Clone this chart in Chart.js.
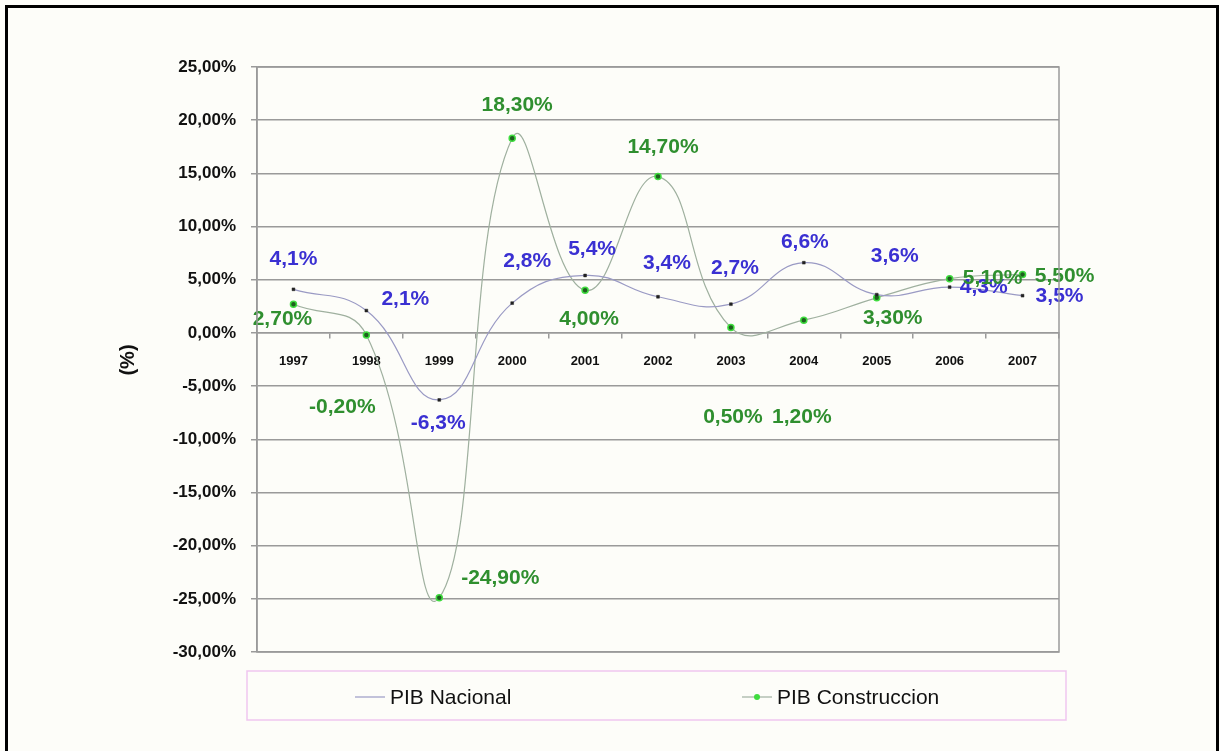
<!DOCTYPE html>
<html>
<head>
<meta charset="utf-8">
<script src="https://cdn.jsdelivr.net/npm/chart.js@4.4.0/dist/chart.umd.min.js"></script>
<style>
  body { margin: 0; background: #fdfdf9; }
  #wrap { width: 1220px; height: 751px; }
</style>
</head>
<body>
<div id="wrap"><canvas id="pibChart" width="1220" height="751"></canvas></div>
<script>
const years = ["1997", "1998", "1999", "2000", "2001", "2002", "2003", "2004", "2005", "2006", "2007"];
const pibNacional = [4.1, 2.1, -6.3, 2.8, 5.4, 3.4, 2.7, 6.6, 3.6, 4.3, 3.5];
const pibConstruccion = [2.7, -0.2, -24.9, 18.3, 4.0, 14.7, 0.5, 1.2, 3.3, 5.1, 5.5];
const yMin = -30, yMax = 25, yStep = 5;

// where each value label sits relative to its point (hand placed, like the original)
const nacionalLabelOffsets = [[0, -30], [39, -11], [-1, 23], [15, -42], [7, -26], [9, -34], [4, -36], [1, -21], [18, -38], [34, 0], [37, 1]];
const construccionLabelOffsets = [[-11, 15], [-24, 72], [61, -20], [5, -33], [4, 29], [5, -29], [2, 90], [-2, 97], [16, 20], [43, 0], [42, 2]];

const FONT = "Arial, 'Liberation Sans', sans-serif";
const lineNacional = "#9a9ac4";
const lineConstruccion = "#9fb09f";
const blueText = "#3a30d2";
const greenText = "#2f8f2f";

const fmt = (v, d) => v.toFixed(d).replace(".", ",") + "%";

const frame = {
  id: "frame",
  beforeDraw(chart) {
    const c = chart.ctx;
    c.save();
    c.fillStyle = "#fdfdf9";
    c.fillRect(0, 0, chart.width, chart.height);
    c.strokeStyle = "#000";
    c.lineWidth = 3;
    c.strokeRect(6.5, 6.5, 1211, 790);
    c.restore();
  },
  afterDraw(chart) {
    const c = chart.ctx, a = chart.chartArea;
    c.save();
    c.strokeStyle = "#9a9a9a";
    c.lineWidth = 1.5;
    c.strokeRect(a.left, a.top, a.right - a.left, a.bottom - a.top);
    // y axis title
    c.translate(128, 360);
    c.rotate(-Math.PI / 2);
    c.fillStyle = "#111";
    c.font = "bold 20px " + FONT;
    c.textAlign = "center";
    c.textBaseline = "middle";
    c.fillText("(%)", 0, 0);
    c.restore();
  }
};

const valueLabels = {
  id: "valueLabels",
  afterDatasetsDraw(chart) {
    const c = chart.ctx;
    const sets = [
      { meta: chart.getDatasetMeta(0), vals: pibNacional, off: nacionalLabelOffsets, color: blueText, dec: 1 },
      { meta: chart.getDatasetMeta(1), vals: pibConstruccion, off: construccionLabelOffsets, color: greenText, dec: 2 }
    ];
    c.save();
    c.font = "bold 21px " + FONT;
    c.textAlign = "center";
    c.textBaseline = "middle";
    sets.forEach(s => {
      c.fillStyle = s.color;
      s.meta.data.forEach((pt, i) => {
        c.fillText(fmt(s.vals[i], s.dec), pt.x + s.off[i][0], pt.y + s.off[i][1]);
      });
    });
    c.restore();
  }
};

const boxLegend = {
  id: "boxLegend",
  afterDraw(chart) {
    const c = chart.ctx;
    const ds = chart.data.datasets;
    c.save();
    c.strokeStyle = "#efc6ef";
    c.lineWidth = 1.5;
    c.strokeRect(247, 671, 819, 49);
    c.font = "21px " + FONT;
    c.textBaseline = "middle";
    c.fillStyle = "#111";
    const items = [{ x: 355, ds: ds[0] }, { x: 742, ds: ds[1] }];
    items.forEach((it, k) => {
      c.strokeStyle = it.ds.borderColor;
      c.lineWidth = 1.2;
      c.beginPath();
      c.moveTo(it.x, 697);
      c.lineTo(it.x + 30, 697);
      c.stroke();
      if (k === 1) {
        c.beginPath();
        c.arc(it.x + 15, 697, 3, 0, Math.PI * 2);
        c.fillStyle = it.ds.pointBorderColor;
        c.fill();
        c.fillStyle = "#111";
      }
      c.fillText(it.ds.label, it.x + 35, 698);
    });
    c.restore();
  }
};

new Chart(document.getElementById("pibChart"), {
  type: "line",
  data: {
    labels: years,
    datasets: [{
      label: "PIB Nacional",
      data: pibNacional,
      borderColor: lineNacional,
      borderWidth: 1.2,
      tension: 0.45,
      pointStyle: "rect",
      pointRadius: 2,
      pointBackgroundColor: "#222",
      pointBorderColor: "#222",
      pointBorderWidth: 0.5
    }, {
      label: "PIB Construccion",
      data: pibConstruccion,
      borderColor: lineConstruccion,
      borderWidth: 1.2,
      tension: 0.45,
      pointStyle: "circle",
      pointRadius: 3,
      pointBackgroundColor: "#1f5f1f",
      pointBorderColor: "#3fdc3f",
      pointBorderWidth: 1.5
    }]
  },
  options: {
    responsive: false,
    animation: false,
    layout: { padding: { left: 0, top: 67, right: 161, bottom: 99 } },
    plugins: {
      legend: { display: false },
      tooltip: { enabled: false }
    },
    scales: {
      x: {
        position: { y: 0 },
        offset: true,
        grid: { drawOnChartArea: false, offset: true, tickLength: 5, color: "#9a9a9a", lineWidth: 1.5 },
        border: { color: "#9a9a9a", width: 1.5 },
        ticks: { color: "#111", padding: 16, font: { family: FONT, size: 13, weight: "bold" }, maxRotation: 0 }
      },
      y: {
        min: yMin,
        max: yMax,
        afterFit: s => { s.width = 257; },
        grid: { color: "#9a9a9a", lineWidth: 1.5, tickLength: 6 },
        border: { color: "#9a9a9a", width: 1.5 },
        ticks: {
          stepSize: yStep,
          padding: 15,
          color: "#111",
          font: { family: FONT, size: 17, weight: "bold" },
          callback: v => fmt(v, 2)
        }
      }
    }
  },
  plugins: [frame, valueLabels, boxLegend]
});
</script>
</body>
</html>
